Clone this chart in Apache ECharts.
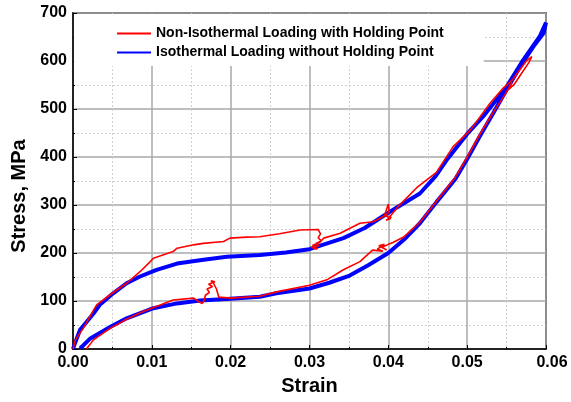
<!DOCTYPE html>
<html>
<head>
<meta charset="utf-8">
<script src="https://cdn.jsdelivr.net/npm/echarts@6/dist/echarts.min.js"></script>
<style>html,body{margin:0;padding:0;background:#fff;}#c{width:571px;height:402px;}</style>
</head>
<body>
<div id="c"></div>
<script>
// Non-isothermal loading with holding point (loading then unloading path)
var redStrain = [0,0.0003,0.0013,0.0026,0.003,0.0047,0.0068,0.0085,0.0098,0.0102,0.0127,0.0132,0.0153,0.0165,0.0191,0.0199,0.022,0.0237,0.0262,0.0288,0.0311,0.0314,0.0311,0.0315,0.0308,0.0312,0.0302,0.0310,0.0304,0.0313,0.0318,0.0339,0.0352,0.0364,0.0381,0.0395,0.0400,0.0401,0.0396,0.0403,0.0397,0.0404,0.0399,0.0405,0.0412,0.0424,0.0436,0.0461,0.0482,0.0504,0.0529,0.0546,0.0557,0.0576,0.0582,
  0.0578,0.0568,0.0560,0.0552,0.0557,0.0548,0.0533,0.0517,0.0500,0.0485,0.0461,0.0440,0.0420,0.0406,0.0400,0.0392,0.0398,0.0388,0.0395,0.0386,0.0393,0.0380,0.0364,0.0343,0.0323,0.0300,0.0258,0.0237,0.0200,0.0185,0.0182,0.0178,0.0175,0.0180,0.0172,0.0177,0.0170,0.0173,0.0168,0.0166,0.0164,0.0160,0.0153,0.0127,0.0100,0.0089,0.0068,0.0047,0.0026,0.0017];
var redStress = [0,19,43,81,92,113,137,161,182,189,203,210,217,220,224,231,233,234,240,248,249,240,232,225,220,215,212,208,216,222,231,241,252,262,265,277,302,285,278,272,268,275,270,282,296,316,336,368,421,456,512,544,560,602,609,
  596,572,552,540,556,530,493,450,400,358,308,264,234,222,218,212,206,215,218,208,204,206,182,165,145,133,119,110,106,108,125,138,142,140,135,130,125,118,112,100,95,98,106,102,85,78,62,43,19,0];
// Isothermal loading without holding point (loading then unloading path)
var blueStrain = [0,0.0002,0.0009,0.0018,0.0026,0.0034,0.0051,0.0068,0.0085,0.0106,0.0132,0.0161,0.0195,0.0237,0.0270,0.0300,0.0343,0.0370,0.0402,0.0440,0.0460,0.0475,0.0500,0.0520,0.0550,0.0571,0.0592,0.0600,
  0.0597,0.0584,0.0567,0.0550,0.0533,0.0515,0.0500,0.0485,0.0461,0.0440,0.0420,0.0400,0.0375,0.0351,0.0325,0.0300,0.0258,0.0237,0.0195,0.0161,0.0132,0.0102,0.0068,0.0047,0.0022,0.0009];
var blueStress = [0,10,40,58,74,92,116,137,151,165,178,185,192,196,201,208,231,252,286,324,360,396,448,484,546,602,651,680,
  658,630,588,540,491,440,396,354,306,262,228,200,175,153,138,126,116,109,104,101,95,85,64,46,22,1];
var xTicks = [0,0.01,0.02,0.03,0.04,0.05,0.06];
var yTicks = [0,100,200,300,400,500,600,700];
var seriesNames = ['Non-Isothermal Loading with Holding Point','Isothermal Loading without Holding Point'];

function zip(a,b){var r=[];for(var i=0;i<a.length;i++)r.push([a[i],b[i]]);return r;}

var chart = echarts.init(document.getElementById('c'), null, {renderer:'canvas'});
var FONT = '"Liberation Sans", Arial, sans-serif';
chart.setOption({
  animation:false,
  backgroundColor:'#fff',
  grid:{left:73,right:25,top:13,bottom:53,show:true,borderColor:'#000',borderWidth:1.5,backgroundColor:'transparent'},
  legend:{
    orient:'vertical', left:74, top:14,
    padding:[12,40,6,43],
    backgroundColor:'#fff',
    icon:'rect',
    itemWidth:34, itemHeight:2, itemGap:4,
    data:seriesNames,
    textStyle:{fontFamily:FONT,fontWeight:'bold',fontSize:14,color:'#000',lineHeight:15}
  },
  xAxis:{
    type:'value', min:xTicks[0], max:xTicks[xTicks.length-1], interval:0.01,
    name:'Strain', nameLocation:'middle', nameGap:27,
    nameTextStyle:{fontFamily:FONT,fontWeight:'bold',fontSize:20,color:'#000'},
    axisLine:{show:true,lineStyle:{color:'#000',width:1.5}},
    axisTick:{show:true,inside:true,length:4,lineStyle:{color:'#000'}},
    minorTick:{show:true,splitNumber:2,length:2,lineStyle:{color:'#000'}},
    axisLabel:{margin:6,fontFamily:FONT,fontWeight:'bold',fontSize:16,color:'#000',
      formatter:function(v){var s=v.toFixed(2);return Math.abs(v-0.06)<1e-9?'{r|'+s+'}':s;},
      rich:{r:{fontFamily:FONT,fontWeight:'bold',fontSize:16,color:'#000',padding:[0,0,0,12]}}},
    splitLine:{show:true,lineStyle:{color:'#a8a8a8',width:1.5}},
    minorSplitLine:{show:true,lineStyle:{color:'#cfcfcf',width:1,type:[2,2]}}
  },
  yAxis:{
    type:'value', min:yTicks[0], max:yTicks[yTicks.length-1], interval:100,
    name:'Stress, MPa', nameLocation:'middle', nameGap:40, nameRotate:90,
    nameTextStyle:{fontFamily:FONT,fontWeight:'bold',fontSize:20,color:'#000',padding:[0,30,0,0]},
    axisLine:{show:true,lineStyle:{color:'#000',width:1.5}},
    axisTick:{show:true,inside:true,length:4,lineStyle:{color:'#000'}},
    minorTick:{show:true,splitNumber:2,length:2,lineStyle:{color:'#000'}},
    axisLabel:{margin:6,fontFamily:FONT,fontWeight:'bold',fontSize:16,color:'#000'},
    splitLine:{show:true,lineStyle:{color:'#a8a8a8',width:1.5}},
    minorSplitLine:{show:true,lineStyle:{color:'#cfcfcf',width:1,type:[2,2]}}
  },
  series:[
    {name:seriesNames[1], type:'line', data:zip(blueStrain,blueStress), showSymbol:false, symbol:'none',
      itemStyle:{color:'#0000ff'}, lineStyle:{color:'#0000ff',width:4}, z:3},
    {name:seriesNames[0], type:'line', data:zip(redStrain,redStress), showSymbol:false, symbol:'none',
      itemStyle:{color:'#ff0000'}, lineStyle:{color:'#ff0000',width:1.6}, z:4}
  ]
});
</script>
</body>
</html>
